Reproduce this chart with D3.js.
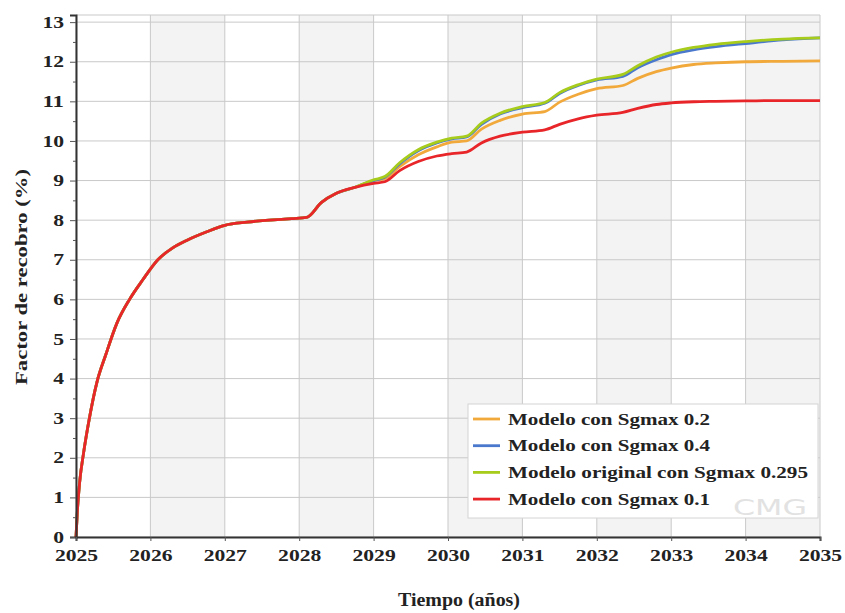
<!DOCTYPE html>
<html lang="es">
<head>
<meta charset="UTF-8">
<title>Factor de recobro</title>
<script src="https://d3js.org/d3.v7.min.js"></script>
<style>
    body { margin: 0; background: #fff; }
    svg text { font-family: "Liberation Serif", "Times New Roman", serif; font-weight: bold; fill: #222; }
</style>
</head>
<body>
<div id="chart"></div>
<script>
// Time axis (years) shared by all series
const years = [2025, 2025.02, 2025.05, 2025.1, 2025.18, 2025.28, 2025.4, 2025.55, 2025.72, 2025.9,
    2026.1, 2026.3, 2026.5, 2026.75, 2027, 2027.3, 2027.6, 2027.9, 2028.1, 2028.3, 2028.5, 2028.75,
    2029.0, 2029.15, 2029.35, 2029.6, 2029.85, 2030.05, 2030.25, 2030.45, 2030.7, 2031.0, 2031.3,
    2031.5, 2031.75, 2032.0, 2032.35, 2032.55, 2032.8, 2033.0, 2033.3, 2033.6, 2034.0, 2034.5, 2035.0];

// common start (identical for all models up to 2028.75)
const base = [0, 0.7, 1.4, 2.1, 3.0, 3.9, 4.6, 5.4, 6.0, 6.5,
    7.0, 7.3, 7.5, 7.7, 7.87, 7.95, 8.0, 8.04, 8.07, 8.45, 8.68, 8.83];

const sg02 = base.concat([9.0, 9.05, 9.35, 9.65, 9.85, 9.97, 10.0, 10.3, 10.52, 10.68, 10.74,
    10.98, 11.18, 11.32, 11.4, 11.58, 11.75, 11.84, 11.93, 11.97, 12.0, 12.01, 12.02]);
const sg04 = base.concat([9.0, 9.08, 9.42, 9.75, 9.95, 10.05, 10.1, 10.42, 10.68, 10.84, 10.95,
    11.2, 11.4, 11.54, 11.63, 11.85, 12.05, 12.18, 12.3, 12.38, 12.46, 12.55, 12.6]);
const sg0295 = base.concat([9.02, 9.1, 9.45, 9.78, 9.97, 10.07, 10.12, 10.45, 10.7, 10.87, 10.97,
    11.22, 11.42, 11.56, 11.68, 11.9, 12.12, 12.24, 12.36, 12.44, 12.51, 12.57, 12.6]);
const sg01 = base.concat([8.93, 8.97, 9.25, 9.48, 9.62, 9.68, 9.72, 9.95, 10.12, 10.22, 10.28,
    10.42, 10.56, 10.65, 10.72, 10.82, 10.92, 10.96, 10.99, 11.0, 11.01, 11.02, 11.02]);

const seriesNames = ["Modelo con Sgmax 0.2", "Modelo con Sgmax 0.4",
    "Modelo original con Sgmax 0.295", "Modelo con Sgmax 0.1"];
const seriesValues = [sg02, sg04, sg0295, sg01];
const seriesColors = ["#f2a93b", "#4a78cc", "#a8cc1c", "#e8262a"];

const xTicks = d3.range(2025, 2036);
const yTicks = d3.range(0, 14);

const W = 845, H = 613;
const x = d3.scaleLinear().domain([2025, 2035]).range([76, 820]);
const y = d3.scaleLinear().domain([0, 13.18]).range([537, 15]);

const svg = d3.select("#chart").append("svg")
    .attr("width", W).attr("height", H);

// shaded alternate year bands
svg.append("g").selectAll("rect")
    .data(xTicks.filter(d => d < 2035 && (d - 2025) % 2 === 1))
    .join("rect")
    .attr("x", d => x(d)).attr("width", d => x(d + 1) - x(d))
    .attr("y", y.range()[1]).attr("height", y.range()[0] - y.range()[1])
    .attr("fill", "#f3f3f3");

// grid
const grid = svg.append("g").attr("stroke", "#c9c9c9").attr("stroke-width", 1);
grid.selectAll(".gx").data(xTicks).join("line")
    .attr("x1", d => x(d)).attr("x2", d => x(d))
    .attr("y1", y.range()[1]).attr("y2", y.range()[0]);
grid.selectAll(".gy").data(yTicks.concat([13.18])).join("line")
    .attr("y1", d => y(d)).attr("y2", d => y(d))
    .attr("x1", x.range()[0]).attr("x2", x.range()[1]);

// lines
const line = d3.line().x((d, i) => x(years[i])).y(d => y(d)).curve(d3.curveMonotoneX);
svg.append("g").selectAll("path")
    .data(seriesValues)
    .join("path")
    .attr("d", line)
    .attr("fill", "none")
    .attr("stroke", (d, i) => seriesColors[i])
    .attr("stroke-width", 2.8)
    .attr("stroke-linejoin", "round");

// axes
const yAxis = svg.append("g")
    .attr("transform", `translate(${x.range()[0]},0)`)
    .call(d3.axisLeft(y).tickValues(yTicks).tickSize(6).tickPadding(6).tickFormat(d3.format("d")));
svg.append("g")
    .attr("transform", `translate(${x.range()[0]},0)`)
    .call(d3.axisLeft(y).tickValues(d3.range(0.5, 13, 1)).tickSize(3).tickFormat(""))
    .select(".domain").remove();
const xAxis = svg.append("g")
    .attr("transform", `translate(0,${y(0)})`)
    .call(d3.axisBottom(x).tickValues(xTicks).tickSize(4).tickPadding(9).tickFormat(d3.format("d")));

[yAxis, xAxis].forEach(a => {
    a.select(".domain").attr("stroke", "#333").attr("stroke-width", 2);
    a.selectAll("text").style("font-size", "16px")
        .attr("textLength", function () { return this.textContent.length * 10.8; })
        .attr("lengthAdjust", "spacingAndGlyphs");
});
svg.selectAll(".tick line").attr("stroke", "#555");

// axis titles
svg.append("text")
    .attr("transform", `translate(27,277) rotate(-90)`)
    .attr("text-anchor", "middle")
    .attr("textLength", 216).attr("lengthAdjust", "spacingAndGlyphs")
    .style("font-size", "17px")
    .text("Factor de recobro (%)");
svg.append("text")
    .attr("x", 459).attr("y", 606)
    .attr("text-anchor", "middle")
    .attr("textLength", 122).attr("lengthAdjust", "spacingAndGlyphs")
    .style("font-size", "18px")
    .text("Tiempo (años)");

// legend
const lg = svg.append("g").attr("transform", "translate(468,404)");
lg.append("rect").attr("width", 350).attr("height", 114)
    .attr("fill", "#fff").attr("stroke", "#d4d4d4");
const items = lg.selectAll(".item").data(seriesNames).join("g")
    .attr("transform", (d, i) => `translate(0,${15 + i * 26.7})`);
items.append("line").attr("x1", 5).attr("x2", 32)
    .attr("stroke", (d, i) => seriesColors[i]).attr("stroke-width", 2.8);
items.append("text").attr("x", 40).attr("dy", "0.35em")
    .attr("textLength", d => d.length > 25 ? 300 : 202)
    .attr("lengthAdjust", "spacingAndGlyphs")
    .style("font-size", "16px").text(d => d);

// watermark
svg.append("text").attr("x", 770).attr("y", 515).attr("text-anchor", "middle")
    .attr("textLength", 74).attr("lengthAdjust", "spacingAndGlyphs")
    .style("font-family", "DejaVu Sans, sans-serif").style("font-weight", "normal")
    .style("font-size", "22px").style("fill", "#e2e2e2").text("CMG");
</script>
</body>
</html>
